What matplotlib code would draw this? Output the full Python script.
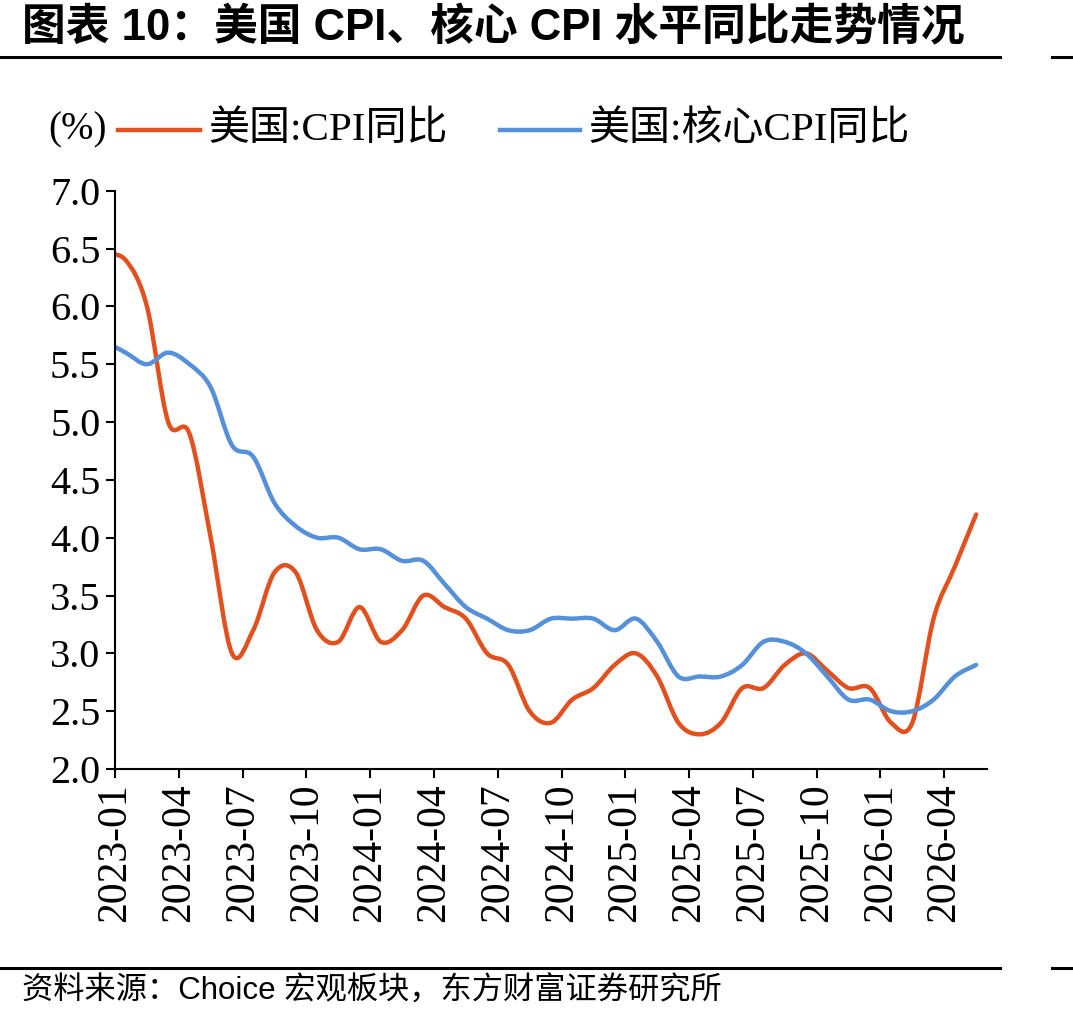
import numpy as np
import matplotlib
matplotlib.use("Agg")
import matplotlib.pyplot as plt
from matplotlib.path import Path
from matplotlib.patches import PathPatch
from matplotlib.lines import Line2D

# 月份（数据点放在月中，2022-12 仅用于曲线起点）
months = ["2022-12",
          "2023-01", "2023-02", "2023-03", "2023-04", "2023-05", "2023-06",
          "2023-07", "2023-08", "2023-09", "2023-10", "2023-11", "2023-12",
          "2024-01", "2024-02", "2024-03", "2024-04", "2024-05", "2024-06",
          "2024-07", "2024-08", "2024-09", "2024-10", "2024-11", "2024-12",
          "2025-01", "2025-02", "2025-03", "2025-04", "2025-05", "2025-06",
          "2025-07", "2025-08", "2025-09", "2025-10", "2025-11", "2025-12",
          "2026-01", "2026-02", "2026-03", "2026-04", "2026-05"]

# 美国:CPI同比 (%)
cpi = [6.45,
       6.4, 6.0, 5.0, 4.9, 4.0, 3.0, 3.2, 3.7, 3.7, 3.2, 3.1, 3.4,
       3.1, 3.2, 3.5, 3.4, 3.3, 3.0, 2.9, 2.5, 2.4, 2.6, 2.7, 2.9,
       3.0, 2.8, 2.4, 2.3, 2.4, 2.7, 2.7, 2.9, 3.0, 2.85, 2.7, 2.7,
       2.4, 2.4, 3.3, 3.75, 4.2]

# 美国:核心CPI同比 (%)
core_cpi = [5.7,
            5.6, 5.5, 5.6, 5.5, 5.3, 4.8, 4.7, 4.3, 4.1, 4.0, 4.0, 3.9,
            3.9, 3.8, 3.8, 3.6, 3.4, 3.3, 3.2, 3.2, 3.3, 3.3, 3.3, 3.2,
            3.3, 3.1, 2.8, 2.8, 2.8, 2.9, 3.1, 3.1, 3.0, 2.8, 2.6, 2.6,
            2.5, 2.5, 2.6, 2.8, 2.9]

tick_labels = ["2023-01", "2023-04", "2023-07", "2023-10",
               "2024-01", "2024-04", "2024-07", "2024-10",
               "2025-01", "2025-04", "2025-07", "2025-10",
               "2026-01", "2026-04"]

RED = "#E2501E"
BLUE = "#5590DA"
SERIF = ["Liberation Serif", "Noto Sans CJK SC"]
SANS = ["Liberation Sans", "Noto Sans CJK SC"]


def smooth_path(x, y):
    """类似 Excel 平滑线：Catmull-Rom 转三次贝塞尔"""
    pts = np.column_stack([x, y])
    n = len(pts)
    verts = [pts[0]]
    codes = [Path.MOVETO]
    for i in range(n - 1):
        p0 = pts[i - 1] if i > 0 else pts[i]
        p1 = pts[i]
        p2 = pts[i + 1]
        p3 = pts[i + 2] if i + 2 < n else pts[i + 1]
        verts += [p1 + (p2 - p0) / 6, p2 - (p3 - p1) / 6, p2]
        codes += [Path.CURVE4] * 3
    return Path(verts, codes)


fig = plt.figure(figsize=(10.73, 10.21), dpi=100)
ax = fig.add_axes([0.1072, 0.2468, 0.8124, 0.5664])

# x: 2023-01 月初 = 0，数据放在月中
x = np.arange(len(months)) - 0.5
for vals, color in [(cpi, RED), (core_cpi, BLUE)]:
    ax.add_patch(PathPatch(smooth_path(x, np.array(vals)), facecolor="none",
                           edgecolor=color, lw=3.2, capstyle="round",
                           joinstyle="round"))

ax.set_xlim(0, 41)
ax.set_ylim(2.0, 7.0)
ax.set_yticks(np.arange(2.0, 7.01, 0.5))
ax.set_yticklabels([f"{v:.1f}" for v in np.arange(2.0, 7.01, 0.5)],
                   family=SERIF, fontsize=29)
ax.set_xticks(np.arange(0, 40, 3))
ax.set_xticklabels(tick_labels, rotation=90, family=SERIF, fontsize=30)

for s in ["top", "right"]:
    ax.spines[s].set_visible(False)
for s in ["left", "bottom"]:
    ax.spines[s].set_linewidth(1.5)
ax.tick_params(axis="both", direction="out", length=6.5, width=1.5, pad=4)

# 图例
ly = 1 - 130 / 1021
fig.text(48 / 1073, ly, "(%)", family=SERIF, fontsize=28, va="center")
fig.add_artist(Line2D([118 / 1073, 200 / 1073], [ly, ly], color=RED, lw=3.2,
                      transform=fig.transFigure))
fig.text(208 / 1073, ly, "美国:CPI同比", family=SERIF, fontsize=29.5, va="center")
fig.add_artist(Line2D([500 / 1073, 580 / 1073], [ly, ly], color=BLUE, lw=3.2,
                      transform=fig.transFigure))
fig.text(588 / 1073, ly, "美国:核心CPI同比", family=SERIF, fontsize=29.5,
         va="center")

# 标题、来源与分隔线
fig.text(22 / 1073, 1 - 28 / 1021, "图表 10：美国 CPI、核心 CPI 水平同比走势情况",
         family=SANS, fontsize=31.5, fontweight="bold", va="center")
fig.text(22 / 1073, 1 - 992 / 1021, "资料来源：Choice 宏观板块，东方财富证券研究所",
         family=SANS, fontsize=22.5, va="center")
for yy in [57, 968]:
    yf = 1 - yy / 1021
    fig.add_artist(Line2D([0, 1000 / 1073], [yf, yf], color="black", lw=2.2,
                          transform=fig.transFigure))
    fig.add_artist(Line2D([1052 / 1073, 1], [yf, yf], color="black", lw=2.2,
                          transform=fig.transFigure))

fig.savefig("out.png", dpi=100)
